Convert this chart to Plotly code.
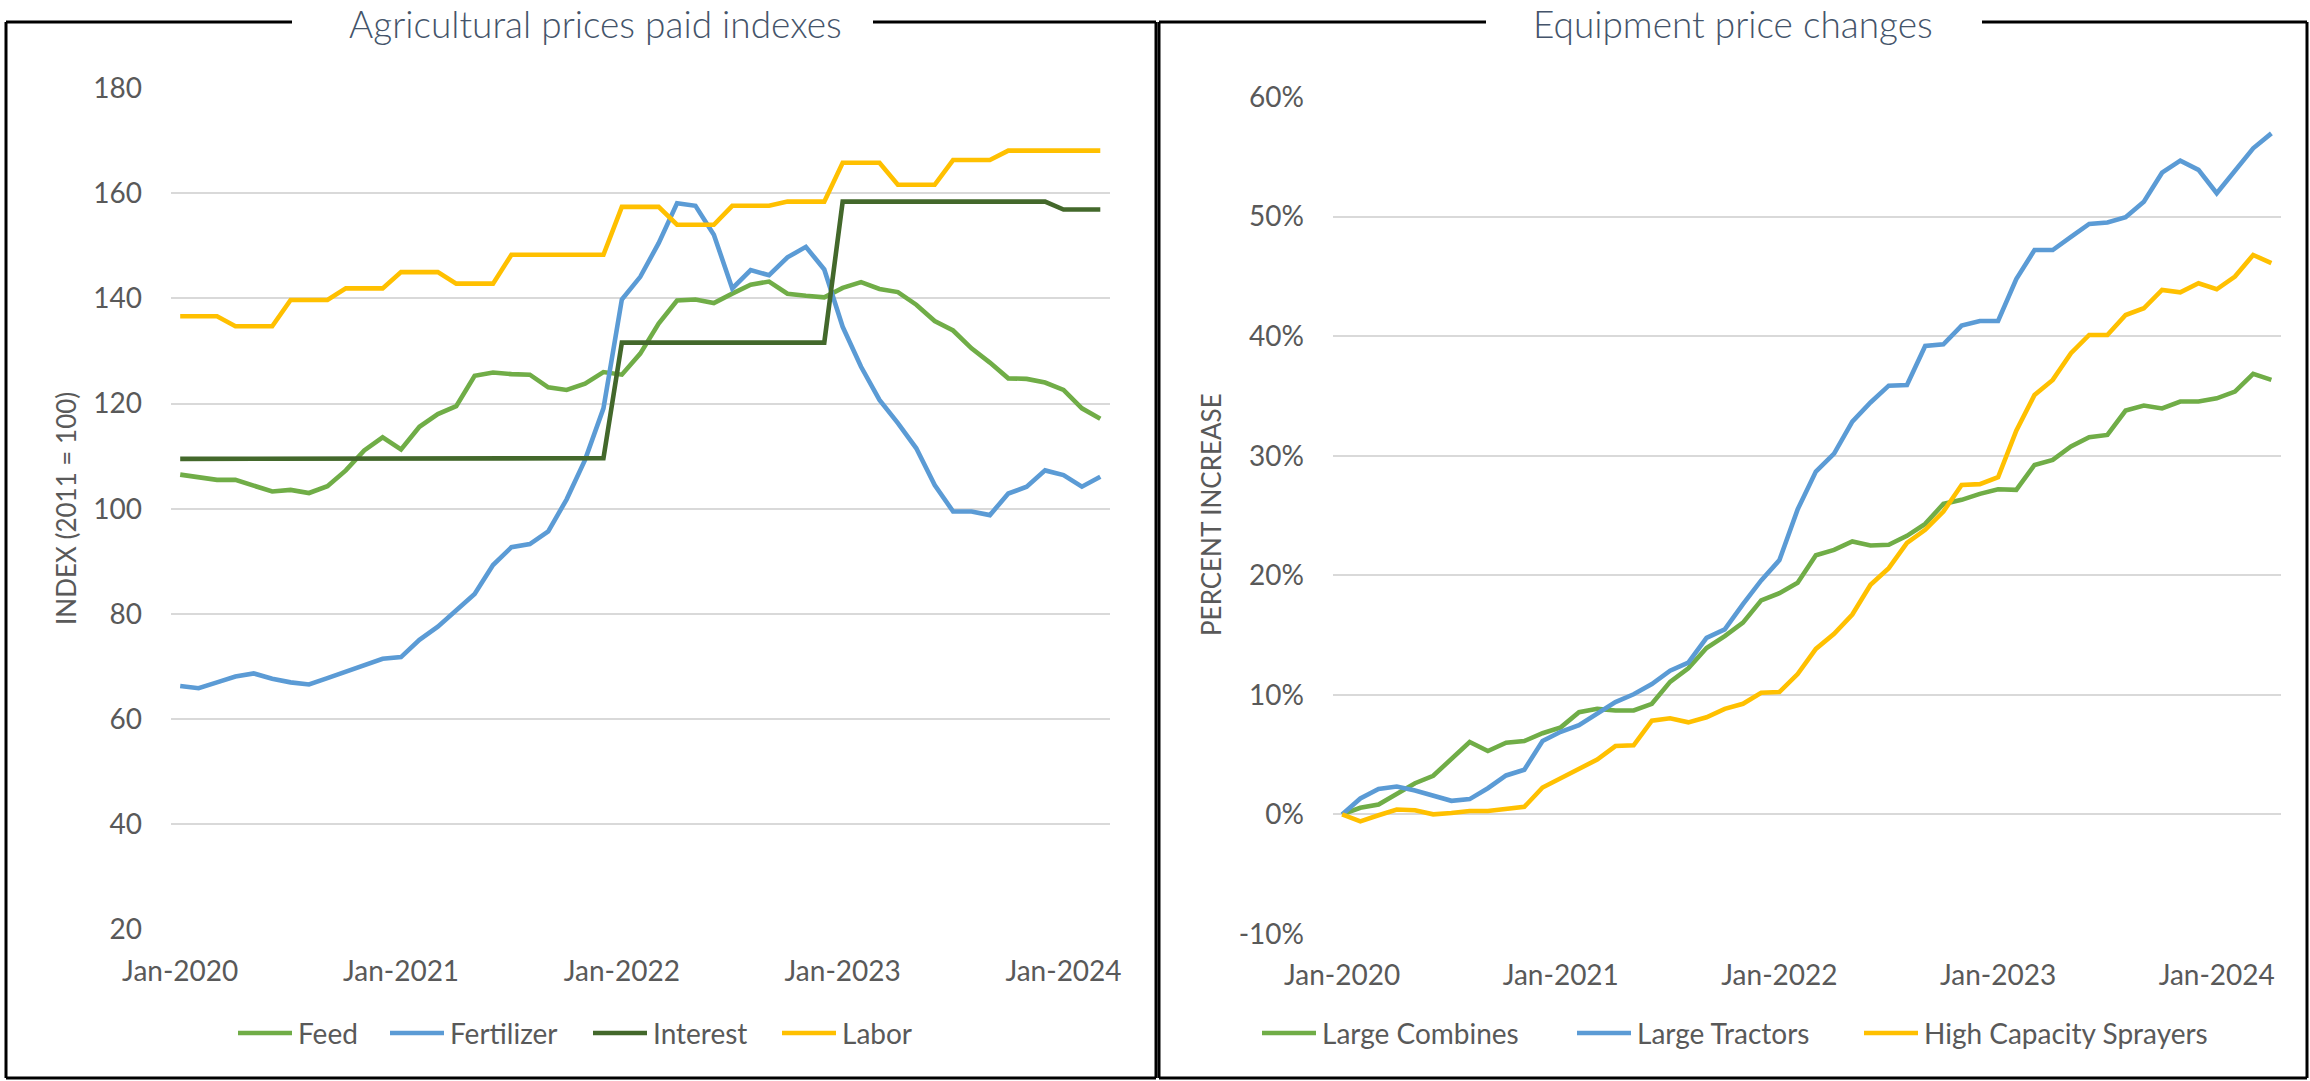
import plotly.graph_objects as go

W, H = 2310, 1081

# ---------------- data ----------------
month_names = ["Jan", "Feb", "Mar", "Apr", "May", "Jun",
               "Jul", "Aug", "Sep", "Oct", "Nov", "Dec"]
months = [f"{m}-{y}" for y in range(2020, 2025) for m in month_names][:52]
left_months = months[:51]    # Jan-2020 .. Mar-2024
right_months = months[:52]   # Jan-2020 .. Apr-2024
tick_labels = ["Jan-2020", "Jan-2021", "Jan-2022", "Jan-2023", "Jan-2024"]

feed = [106.5, 106.1, 105.5, 105.5, 104.4, 103.3, 103.6, 103.0, 104.3, 107.3,
        111.1, 113.6, 111.3, 115.6, 118.0, 119.5, 125.3, 125.9, 125.6, 125.5,
        123.1, 122.6, 123.8, 126.0, 125.5, 129.5, 135.2, 139.6, 139.8, 139.1,
        140.9, 142.6, 143.2, 140.9, 140.5, 140.2, 142.0, 143.1, 141.8, 141.2,
        138.8, 135.7, 133.9, 130.5, 127.8, 124.8, 124.7, 124.0, 122.6, 119.1,
        117.1]
fertilizer = [66.3, 65.9, 67.0, 68.1, 68.7, 67.7, 67.0, 66.6, 67.8, 69.0,
              70.2, 71.5, 71.8, 75.1, 77.6, 80.6, 83.8, 89.3, 92.7, 93.3,
              95.7, 101.8, 109.3, 119.1, 139.8, 144.1, 150.5, 158.1, 157.6, 152.1,
              141.9, 145.4, 144.4, 147.8, 149.8, 145.5, 134.6, 127.0, 120.7, 116.3,
              111.5, 104.5, 99.5, 99.5, 98.8, 102.9, 104.2, 107.3, 106.4, 104.2,
              106.1]
interest = ([109.5] * 12 + [109.6] * 12 + [131.6] * 12 + [158.4] * 12 + [156.9] * 3)
labor = ([136.6] * 3 + [134.7] * 3 + [139.7] * 3 + [141.9] * 3 + [145.0] * 3 +
         [142.8] * 3 + [148.3] * 6 + [157.4] * 3 + [154.0] * 3 + [157.6] * 3 +
         [158.4] * 3 + [165.8] * 3 + [161.6] * 3 + [166.3] * 3 + [168.1] * 6)

combines = [0.0, 0.55, 0.83, 1.76, 2.61, 3.23, 4.59, 6.06, 5.3, 6.0,
            6.14, 6.79, 7.28, 8.55, 8.83, 8.69, 8.69, 9.25, 11.09, 12.22,
            13.92, 14.91, 16.04, 17.9, 18.5, 19.38, 21.67, 22.12, 22.83, 22.49,
            22.55, 23.3, 24.3, 25.97, 26.31, 26.81, 27.2, 27.15, 29.23, 29.65,
            30.77, 31.55, 31.74, 33.78, 34.2, 33.95, 34.53, 34.53, 34.8, 35.36,
            36.84, 36.34]
tractors = [0.0, 1.34, 2.13, 2.33, 2.0, 1.57, 1.14, 1.28, 2.19, 3.26,
            3.74, 6.14, 6.91, 7.47, 8.49, 9.4, 10.05, 10.9, 12.02, 12.7,
            14.77, 15.47, 17.59, 19.57, 21.27, 25.51, 28.67, 30.17, 32.85, 34.45,
            35.86, 35.92, 39.18, 39.32, 40.88, 41.27, 41.27, 44.78, 47.2, 47.2,
            48.3, 49.38, 49.5, 49.94, 51.25, 53.67, 54.68, 53.9, 51.95, 53.84,
            55.71, 56.96]
sprayers = [0.0, -0.58, -0.07, 0.41, 0.35, 0.01, 0.12, 0.29, 0.29, 0.49,
            0.63, 2.25, 3.03, 3.88, 4.59, 5.72, 5.78, 7.84, 8.04, 7.7,
            8.12, 8.83, 9.25, 10.17, 10.24, 11.74, 13.84, 15.1, 16.72, 19.2,
            20.6, 22.7, 23.8, 25.33, 27.56, 27.62, 28.2, 32.1, 35.08, 36.34,
            38.57, 40.1, 40.1, 41.77, 42.33, 43.86, 43.67, 44.42, 43.92, 44.98,
            46.79, 46.1]

left_y_ticks = [20, 40, 60, 80, 100, 120, 140, 160, 180]
right_y_ticks = [-10, 0, 10, 20, 30, 40, 50, 60]
right_y_text = [f"{v}%" for v in right_y_ticks]

left_names = ["Feed", "Fertilizer", "Interest", "Labor"]
right_names = ["Large Combines", "Large Tractors", "High Capacity Sprayers"]

# ---------------- styles ----------------
GREEN, BLUE, DKGREEN, GOLD = "#70AD47", "#5B9BD5", "#43682B", "#FFC000"
TXT = "#595959"
TITLE_C = "#44546A"
FONT = "Lato, 'Open Sans', sans-serif"
LW = 4.6


def px(x):
    return x / W


def py(y):
    return 1 - y / H


fig = go.Figure()

left_series = [feed, fertilizer, interest, labor]
left_colors = [GREEN, BLUE, DKGREEN, GOLD]
for name, vals, c in zip(left_names, left_series, left_colors):
    fig.add_trace(go.Scatter(x=left_months, y=vals, name=name, mode="lines",
                             line=dict(color=c, width=LW), showlegend=False,
                             xaxis="x", yaxis="y"))

right_series = [combines, tractors, sprayers]
right_colors = [GREEN, BLUE, GOLD]
for name, vals, c in zip(right_names, right_series, right_colors):
    fig.add_trace(go.Scatter(x=right_months, y=vals, name=name, mode="lines",
                             line=dict(color=c, width=LW), showlegend=False,
                             xaxis="x2", yaxis="y2"))

tickfont = dict(family=FONT, size=28, color=TXT)

xcommon = dict(type="category", tickvals=tick_labels, ticktext=tick_labels,
               showgrid=False, zeroline=False, showline=False, ticks="",
               tickfont=tickfont, ticklabelstandoff=22, fixedrange=True,
               automargin=False)
ycommon = dict(showgrid=True, gridcolor="#D9D9D9", gridwidth=2, zeroline=False,
               showline=False, ticks="", tickfont=tickfont,
               ticklabelstandoff=28, fixedrange=True, automargin=False)

fig.update_layout(
    width=W, height=H, autosize=False,
    margin=dict(l=0, r=0, t=0, b=0, pad=0, autoexpand=False),
    paper_bgcolor="white", plot_bgcolor="white",
    showlegend=False,
    xaxis=dict(domain=[px(171), px(1109.5)], anchor="y",
               categoryorder="array", categoryarray=left_months,
               range=[-0.5, len(left_months) - 0.5], **xcommon),
    yaxis=dict(domain=[py(929.6), py(88)], anchor="x", range=[20, 180],
               tickvals=left_y_ticks, **ycommon),
    xaxis2=dict(domain=[px(1333), px(2280.5)], anchor="y2",
                categoryorder="array", categoryarray=right_months,
                range=[-0.5, len(right_months) - 0.5], **xcommon),
    yaxis2=dict(domain=[py(934), py(97)], anchor="x2", range=[-10, 60],
                tickvals=right_y_ticks, ticktext=right_y_text, **ycommon),
)

shapes = []
annotations = []
BORDER = dict(color="black", width=3)


def seg(x0, y0, x1, y1, line):
    shapes.append(dict(type="line", xref="paper", yref="paper",
                       x0=px(x0), y0=py(y0), x1=px(x1), y1=py(y1), line=line))


# panel borders (top line interrupted by the title)
for (L, R, gap0, gap1) in [(6, 1156, 292, 873), (1159, 2307, 1486, 1982)]:
    seg(L, 22, gap0, 22, BORDER)
    seg(gap1, 22, R, 22, BORDER)
    seg(L, 22, L, 1078, BORDER)
    seg(R, 22, R, 1078, BORDER)
    seg(L, 1078, R, 1078, BORDER)

title_font = dict(family=FONT, size=37, color=TITLE_C, weight=300)
annotations.append(dict(text="Agricultural prices paid indexes", x=px(595), y=py(23),
                        xref="paper", yref="paper", showarrow=False,
                        xanchor="center", yanchor="middle", font=title_font))
annotations.append(dict(text="Equipment price changes", x=px(1733), y=py(23),
                        xref="paper", yref="paper", showarrow=False,
                        xanchor="center", yanchor="middle", font=title_font))

axis_title_font = dict(family=FONT, size=26, color=TXT)
annotations.append(dict(text="INDEX (2011 = 100)", x=px(66), y=py(509),
                        xref="paper", yref="paper", showarrow=False, textangle=-90,
                        xanchor="center", yanchor="middle", font=axis_title_font))
annotations.append(dict(text="PERCENT INCREASE", x=px(1211), y=py(515),
                        xref="paper", yref="paper", showarrow=False, textangle=-90,
                        xanchor="center", yanchor="middle", font=axis_title_font))

# legends
legend_font = dict(family=FONT, size=28, color=TXT)
LEG_Y = 1033
left_leg_x = [238, 390, 593, 782]
right_leg_x = [1262, 1577, 1864]
for names, colors, xs in [(left_names, left_colors, left_leg_x),
                          (right_names, right_colors, right_leg_x)]:
    for name, c, x0 in zip(names, colors, xs):
        seg(x0, LEG_Y, x0 + 54, LEG_Y, dict(color=c, width=LW))
        annotations.append(dict(text=name, x=px(x0 + 58), y=py(LEG_Y),
                                xref="paper", yref="paper", showarrow=False,
                                xanchor="left", yanchor="middle", font=legend_font))

fig.update_layout(shapes=shapes, annotations=annotations)

# The page's default 8px body margin would push the 2310x1081 figure off the
# window; remove it so the figure sits at the window's top-left corner.
fig.write_html("out.html",
               config={"displayModeBar": False, "displaylogo": False},
               post_script="document.body.style.margin='0px';"
                           "document.body.style.overflow='hidden';")
